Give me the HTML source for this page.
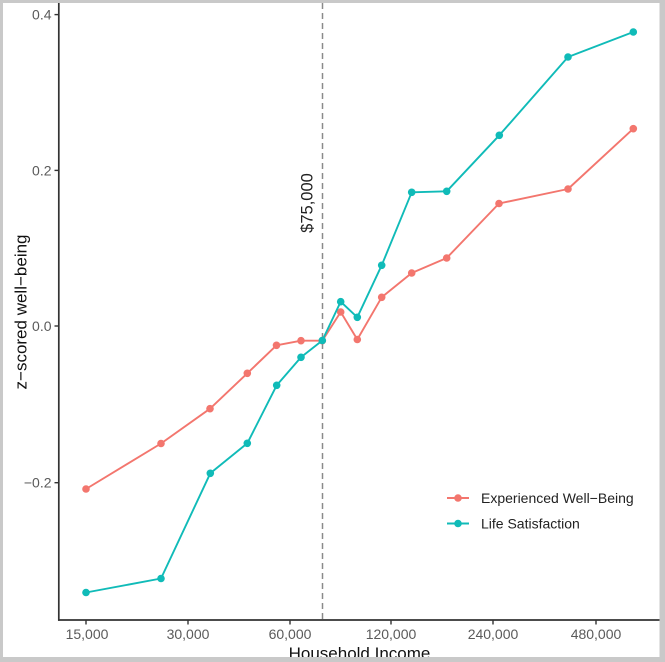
<!DOCTYPE html>
<html>
<head>
<meta charset="utf-8">
<style>
  html, body { margin: 0; padding: 0; background: #ffffff; }
  svg { display: block; }
  text { font-family: "Liberation Sans", Arial, sans-serif; }
</style>
</head>
<body>
<svg width="665" height="662" viewBox="0 0 665 662" xmlns="http://www.w3.org/2000/svg">
  <rect x="0" y="0" width="665" height="662" fill="#ffffff"/>

  <!-- dashed $75,000 line -->
  <line x1="322.5" y1="3" x2="322.5" y2="620" stroke="#8a8a8a" stroke-width="1.5" stroke-dasharray="6,4"/>
  <text x="312.5" y="203" transform="rotate(-90 312.5 203)" text-anchor="middle" font-size="16.5" fill="#222">$75,000</text>

  <!-- Experienced Well-Being -->
  <polyline fill="none" stroke="#F3766E" stroke-width="1.9" stroke-linejoin="round"
    points="86,489 161,443.5 210,408.7 247.3,373.3 276.5,345.3 301,340.7 322.3,340.7 340.7,312 357.3,339.5 381.7,297.3 411.7,273 446.7,258 499,203.5 568,189 633.3,128.7"/>
  <g fill="#F3766E">
    <circle cx="86" cy="489" r="3.8"/>
    <circle cx="161" cy="443.5" r="3.8"/>
    <circle cx="210" cy="408.7" r="3.8"/>
    <circle cx="247.3" cy="373.3" r="3.8"/>
    <circle cx="276.5" cy="345.3" r="3.8"/>
    <circle cx="301" cy="340.7" r="3.8"/>
    <circle cx="322.3" cy="340.7" r="3.8"/>
    <circle cx="340.7" cy="312" r="3.8"/>
    <circle cx="357.3" cy="339.5" r="3.8"/>
    <circle cx="381.7" cy="297.3" r="3.8"/>
    <circle cx="411.7" cy="273" r="3.8"/>
    <circle cx="446.7" cy="258" r="3.8"/>
    <circle cx="499" cy="203.5" r="3.8"/>
    <circle cx="568" cy="189" r="3.8"/>
    <circle cx="633.3" cy="128.7" r="3.8"/>
  </g>

  <!-- Life Satisfaction -->
  <polyline fill="none" stroke="#10BBB8" stroke-width="1.9" stroke-linejoin="round"
    points="86,592.5 161,578.5 210.3,473.3 247.3,443.3 276.7,385.3 301,357.3 322.3,340.5 340.7,301.7 357.3,317.3 381.7,265.3 411.7,192.3 446.7,191.3 499.3,135.3 568,57 633.3,32"/>
  <g fill="#10BBB8">
    <circle cx="86" cy="592.5" r="3.8"/>
    <circle cx="161" cy="578.5" r="3.8"/>
    <circle cx="210.3" cy="473.3" r="3.8"/>
    <circle cx="247.3" cy="443.3" r="3.8"/>
    <circle cx="276.7" cy="385.3" r="3.8"/>
    <circle cx="301" cy="357.3" r="3.8"/>
    <circle cx="322.3" cy="340.5" r="3.8"/>
    <circle cx="340.7" cy="301.7" r="3.8"/>
    <circle cx="357.3" cy="317.3" r="3.8"/>
    <circle cx="381.7" cy="265.3" r="3.8"/>
    <circle cx="411.7" cy="192.3" r="3.8"/>
    <circle cx="446.7" cy="191.3" r="3.8"/>
    <circle cx="499.3" cy="135.3" r="3.8"/>
    <circle cx="568" cy="57" r="3.8"/>
    <circle cx="633.3" cy="32" r="3.8"/>
  </g>

  <!-- axes -->
  <line x1="58.8" y1="0" x2="58.8" y2="620.8" stroke="#333" stroke-width="1.7"/>
  <line x1="58" y1="620" x2="665" y2="620" stroke="#333" stroke-width="1.7"/>

  <!-- y ticks -->
  <g stroke="#333" stroke-width="1.4">
    <line x1="54.5" y1="14.6" x2="58.8" y2="14.6"/>
    <line x1="54.5" y1="170.4" x2="58.8" y2="170.4"/>
    <line x1="54.5" y1="326" x2="58.8" y2="326"/>
    <line x1="54.5" y1="482.7" x2="58.8" y2="482.7"/>
  </g>
  <g font-size="14" fill="#5a5a5a" text-anchor="end">
    <text x="51.5" y="19.6">0.4</text>
    <text x="51.5" y="175.4">0.2</text>
    <text x="51.5" y="331">0.0</text>
    <text x="51.5" y="487.7">−0.2</text>
  </g>

  <!-- x ticks -->
  <g stroke="#333" stroke-width="1.4">
    <line x1="86" y1="620" x2="86" y2="624.5"/>
    <line x1="188" y1="620" x2="188" y2="624.5"/>
    <line x1="290" y1="620" x2="290" y2="624.5"/>
    <line x1="391" y1="620" x2="391" y2="624.5"/>
    <line x1="493" y1="620" x2="493" y2="624.5"/>
    <line x1="596" y1="620" x2="596" y2="624.5"/>
  </g>
  <g font-size="14" fill="#5a5a5a" text-anchor="middle">
    <text x="87" y="639">15,000</text>
    <text x="188" y="639">30,000</text>
    <text x="290" y="639">60,000</text>
    <text x="391" y="639">120,000</text>
    <text x="493" y="639">240,000</text>
    <text x="596" y="639">480,000</text>
  </g>

  <!-- axis titles -->
  <text x="26.5" y="312" transform="rotate(-90 26.5 312)" text-anchor="middle" font-size="17" fill="#111">z−scored well−being</text>
  <text x="359.5" y="659" text-anchor="middle" font-size="17" fill="#111">Household Income</text>

  <!-- legend -->
  <line x1="447" y1="498" x2="469" y2="498" stroke="#F3766E" stroke-width="1.9"/>
  <circle cx="458" cy="498" r="3.8" fill="#F3766E"/>
  <text x="481" y="503" font-size="14" fill="#222">Experienced Well−Being</text>
  <line x1="447" y1="523.5" x2="469" y2="523.5" stroke="#10BBB8" stroke-width="1.9"/>
  <circle cx="458" cy="523.5" r="3.8" fill="#10BBB8"/>
  <text x="481" y="528.5" font-size="14" fill="#222">Life Satisfaction</text>

  <!-- outer gray frame -->
  <rect x="0" y="0" width="665" height="3" fill="#c9c9c9"/>
  <rect x="0" y="0" width="3" height="662" fill="#c9c9c9"/>
  <rect x="659.5" y="0" width="5.5" height="662" fill="#c9c9c9"/>
  <rect x="0" y="657" width="665" height="5" fill="#c9c9c9"/>
</svg>
</body>
</html>
